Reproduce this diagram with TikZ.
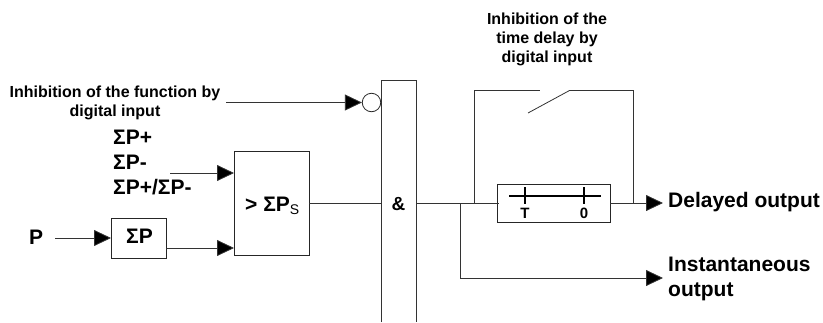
\documentclass[tikz,border=0pt]{standalone}
\usepackage{fontspec}
\setmainfont{Liberation Sans}
\usetikzlibrary{arrows.meta}
\tikzset{
  wire/.style={line width=0.8pt,draw=black!80},
  flow/.style={wire,-{Triangle[length=17pt,width=16pt,fill=black]}},
  block/.style={draw=black!85,line width=0.9pt,minimum width=0pt,minimum height=0pt,inner sep=0pt,anchor=north west},
  small/.style={font=\bfseries\fontsize{16}{19}\selectfont,align=center,inner sep=0pt},
  big/.style={font=\bfseries\fontsize{21}{25}\selectfont,inner sep=0pt,anchor=west,align=left},
  inblock/.style={font=\bfseries\fontsize{21}{25}\selectfont,inner sep=0pt},
  timerlabel/.style={font=\bfseries\fontsize{15}{16}\selectfont,inner sep=0pt},
  tick/.style={line width=1.1pt,draw=black}
}
\begin{document}
\begin{tikzpicture}[x=1pt,y=-1pt]
\useasboundingbox (0,0) rectangle (823,322);
% AND block (open at the bottom)
\coordinate (andTL) at (381,80);
\coordinate (andTR) at (416,80);
\coordinate (andBL) at (381,322);
\coordinate (andBR) at (416,322);
\draw[wire,line width=0.9pt] (andBL) -- (andTL) -- (andTR) -- (andBR);
\node[inblock,font=\bfseries\fontsize{19}{20}\selectfont] (amp) at (398.5,204) {\&};
% inhibition of function
\node[small] (inhf) at (115,102.5) {Inhibition of the function by\\digital input};
\node[circle,draw=black!85,line width=0.8pt,minimum size=18.5pt,inner sep=0pt] (bub) at (371.5,102.5) {};
\coordinate (inhfS) at (226,102.5);
\draw[flow] (inhfS) -- (bub.west);
% Threshold
\node[block,minimum width=75pt,minimum height=104pt] (thr) at (234,151) {};
\node[inblock,anchor=base west] (thrT) at (245,211) {> ΣP\raisebox{-3pt}{\fontsize{14}{14}\mdseries\selectfont S}};
\node[big] (sp1) at (113,137) {ΣP+};
\node[big] (sp2) at (113,162) {ΣP-};
\node[big] (sp3) at (113,187.5) {ΣP+/ΣP-};
\coordinate (selS) at (170,173);
\coordinate (thrA) at (234,173);
\draw[flow] (selS) -- (thrA);
% Sum
\node[block,minimum width=55pt,minimum height=40pt] (sum) at (111,218) {};
\node[inblock] (sumT) at (139.5,236.5) {ΣP};
\node[big] (p) at (29,237) {P};
\coordinate (pS) at (55,238);
\coordinate (sumA) at (111,238);
\draw[flow] (pS) -- (sumA);
\coordinate (sumO) at (166,248);
\coordinate (thrB) at (234,248);
\draw[flow] (sumO) -- (thrB);
% thr -> and
\coordinate (thrO) at (309,203);
\coordinate (andI) at (381,203);
\draw[wire] (thrO) -- (andI);
% Timer
\node[block,minimum width=113pt,minimum height=38pt] (tim) at (497,184) {};
\coordinate (andO) at (416,203);
\coordinate (timI) at (499,203);
\coordinate (timO) at (610,203);
\coordinate (outD) at (663,203);
\coordinate (jn) at (460,203);
\coordinate (sw) at (474,203);
\coordinate (se) at (633.5,203);
\draw[wire] (andO) -- (timI);
\draw[flow] (timO) -- (outD);
\draw[tick] (509,196) -- (601,196);
\draw[tick] (525,187) -- (525,204);
\draw[tick] (584,187) -- (584,204);
\node[timerlabel] (tT) at (525,213.5) {T};
\node[timerlabel] (t0) at (584,213.5) {0};
% Switch
\draw[wire] (sw) -- (474,90.5) -- (539.5,90.5);
\draw[wire] (528,113) -- (569.5,90.5) -- (633.5,90.5) -- (se);
\node[small] (inht) at (547,39.5) {Inhibition of the\\time delay by\\digital input};
% Instantaneous
\coordinate (outI) at (663,278);
\draw[flow] (jn) -- (460,278) -- (outI);
\node[big] (dly) at (668,202) {Delayed output};
\node[big] (ins) at (668,278.5) {Instantaneous\\output};
\end{tikzpicture}
\end{document}
